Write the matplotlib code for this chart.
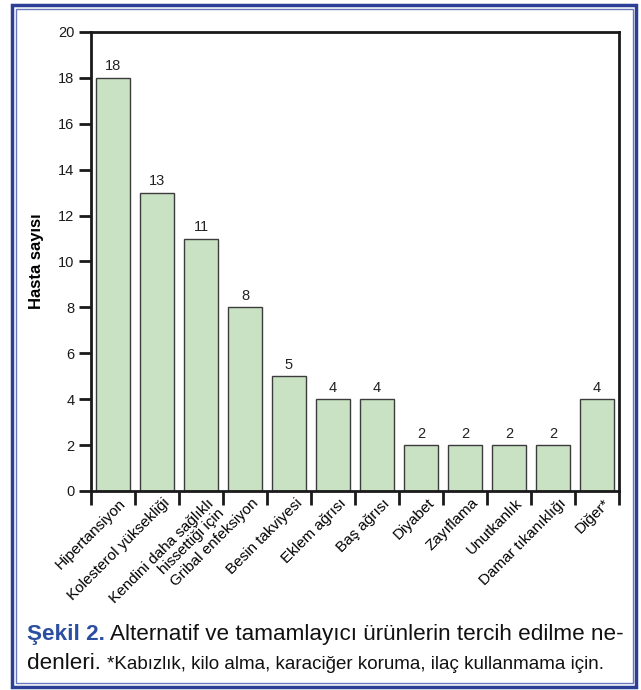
import matplotlib
matplotlib.use('Agg')
import matplotlib.pyplot as plt
from matplotlib.patches import Rectangle
from matplotlib.transforms import offset_copy

plt.rcParams['font.family'] = ['Liberation Sans', 'DejaVu Sans']

reasons = ['Hipertansiyon', 'Kolesterol yüksekliği', 'Kendini daha sağlıklı\nhissettiği için',
           'Gribal enfeksiyon', 'Besin takviyesi', 'Eklem ağrısı', 'Baş ağrısı', 'Diyabet',
           'Zayıflama', 'Unutkanlık', 'Damar tıkanıklığı', 'Diğer*']
counts = [18, 13, 11, 8, 5, 4, 4, 2, 2, 2, 2, 4]
yticks = list(range(0, 21, 2))

W, H = 641, 690
fig = plt.figure(figsize=(W/100, H/100), dpi=100)
ax = fig.add_axes([91/W, 1-491/H, (619-91)/W, (491-32)/H])

x = list(range(len(reasons)))
ax.bar(x, counts, width=0.76, color='#c9e2c3', edgecolor='#3c3c3c', linewidth=1.0)
for xi, c in zip(x, counts):
    ax.text(xi, c + 0.2, str(c), ha='center', va='bottom', fontsize=10.5, color='#222222')

ax.set_xlim(-0.5, len(reasons) - 0.5)
ax.set_ylim(0, 20)
ax.set_yticks(yticks)
ax.tick_params(axis='y', length=9, width=2, labelsize=10.5, pad=3, colors='#1a1a1a')

# category labels sit under bar centres, tick marks at the boundaries
ax.set_xticks(x)
ax.set_xticklabels(reasons, rotation=45, ha='right', va='top', rotation_mode='anchor',
                   fontsize=11, multialignment='right', linespacing=1.0)
ax.tick_params(axis='x', which='major', length=0, pad=0)
for lab in ax.get_xticklabels():
    lab.set_transform(offset_copy(lab.get_transform(), fig=fig, x=6, y=-5, units='dots'))
ax.set_xticks([i - 0.5 for i in range(len(reasons) + 1)], minor=True)
ax.tick_params(axis='x', which='minor', length=10, width=2, color='#1a1a1a')

for s in ax.spines.values():
    s.set_linewidth(2)
    s.set_color('#1a1a1a')

ax.set_ylabel('Hasta sayısı', fontsize=12, fontweight='bold', labelpad=10)

# double frame around the figure
fig.patches.append(Rectangle((12.3/W, 1-687/H), (636-12.3)/W, (687-5)/H, transform=fig.transFigure,
                             fill=False, edgecolor='#2b3f96', linewidth=2.5))
fig.patches.append(Rectangle((15.7/W, 1-683/H), (632.5-15.7)/W, (683-9)/H, transform=fig.transFigure,
                             fill=False, edgecolor='#6878bb', linewidth=1.0))

# caption
fig.canvas.draw()
r = fig.canvas.get_renderer()
t1 = fig.text(27/W, 1-640/H, 'Şekil 2.', fontsize=16.2, fontweight='bold', color='#2b4fa0',
              va='baseline')
bb = t1.get_window_extent(r)
fig.text(bb.x1/W + 5/W, 1-640/H, 'Alternatif ve tamamlayıcı ürünlerin tercih edilme ne-',
         fontsize=16.2, color='#111111', va='baseline')
t3 = fig.text(27/W, 1-669/H, 'denleri.', fontsize=16.2, color='#111111', va='baseline')
bb = t3.get_window_extent(r)
fig.text(bb.x1/W + 6/W, 1-669/H,
         '*Kabızlık, kilo alma, karaciğer koruma, ilaç kullanmama için.',
         fontsize=13.5, color='#111111', va='baseline')

fig.savefig('out.png', dpi=100)
